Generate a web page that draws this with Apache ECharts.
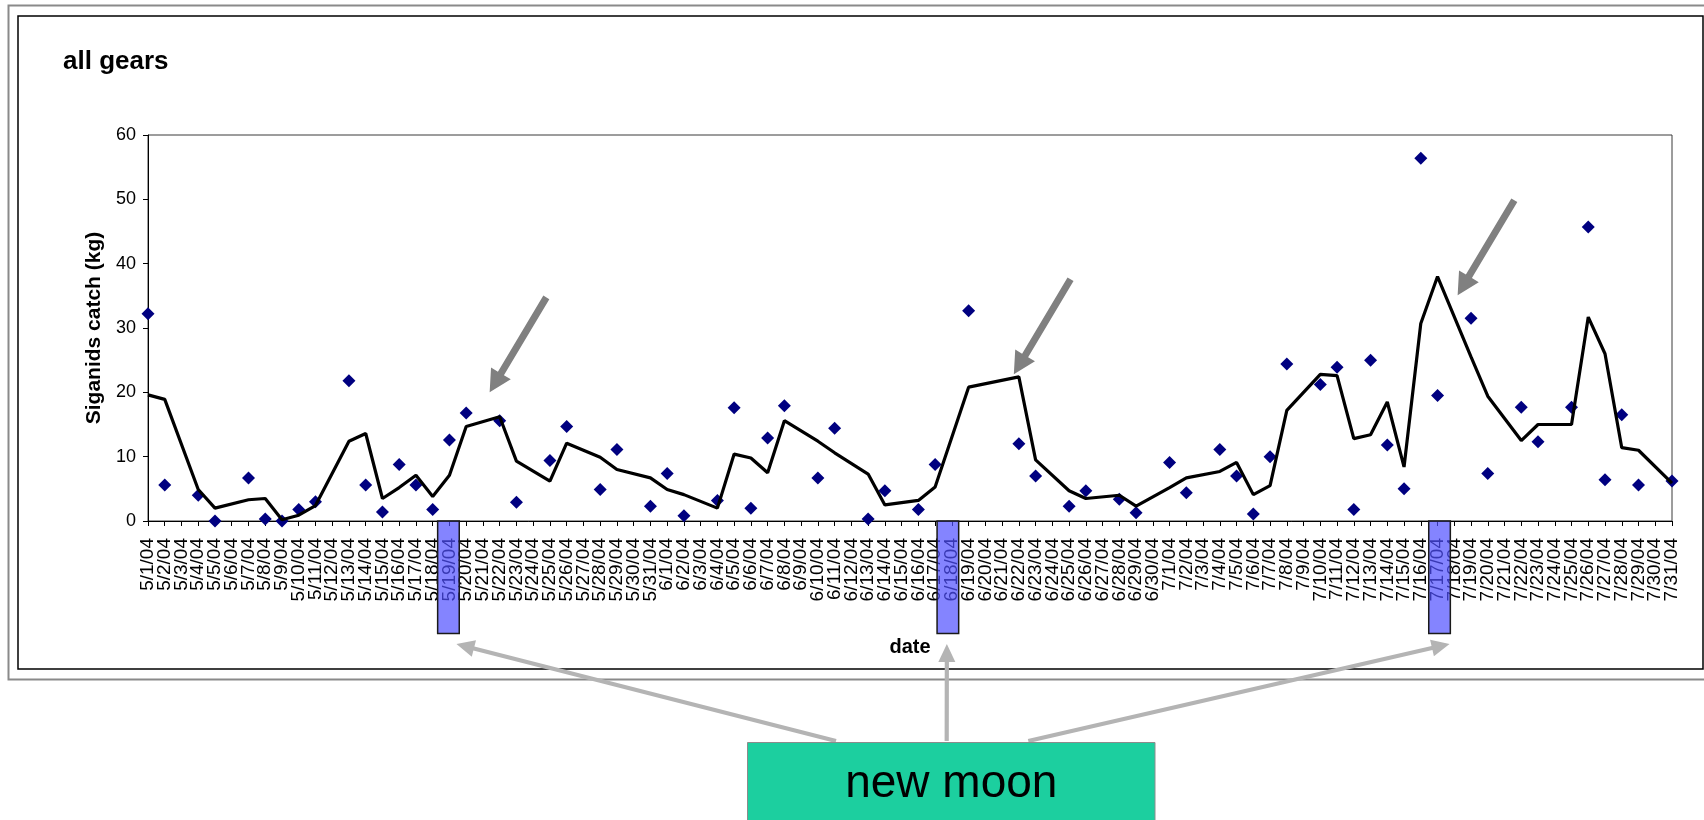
<!DOCTYPE html>
<html>
<head>
<meta charset="utf-8">
<script src="https://cdn.jsdelivr.net/npm/echarts@6/dist/echarts.min.js"></script>
<style>
html,body{margin:0;padding:0;background:#ffffff;}
#c{width:1704px;height:820px;}
</style>
</head>
<body>
<div id="c"></div>
<script>
// ---- data ----
const dates = [
 '5/1/04','5/2/04','5/3/04','5/4/04','5/5/04','5/6/04','5/7/04','5/8/04','5/9/04','5/10/04',
 '5/11/04','5/12/04','5/13/04','5/14/04','5/15/04','5/16/04','5/17/04','5/18/04','5/19/04','5/20/04',
 '5/21/04','5/22/04','5/23/04','5/24/04','5/25/04','5/26/04','5/27/04','5/28/04','5/29/04','5/30/04',
 '5/31/04','6/1/04','6/2/04','6/3/04','6/4/04','6/5/04','6/6/04','6/7/04','6/8/04','6/9/04',
 '6/10/04','6/11/04','6/12/04','6/13/04','6/14/04','6/15/04','6/16/04','6/17/04','6/18/04','6/19/04',
 '6/20/04','6/21/04','6/22/04','6/23/04','6/24/04','6/25/04','6/26/04','6/27/04','6/28/04','6/29/04',
 '6/30/04','7/1/04','7/2/04','7/3/04','7/4/04','7/5/04','7/6/04','7/7/04','7/8/04','7/9/04',
 '7/10/04','7/11/04','7/12/04','7/13/04','7/14/04','7/15/04','7/16/04','7/17/04','7/18/04','7/19/04',
 '7/20/04','7/21/04','7/22/04','7/23/04','7/24/04','7/25/04','7/26/04','7/27/04','7/28/04','7/29/04',
 '7/30/04','7/31/04'
];
const catchKg = [
 32.2, 5.6, null, 4.0, 0, null, 6.7, 0.3, 0, 1.8,
 3.0, null, 21.8, 5.6, 1.4, 8.8, 5.6, 1.8, 12.6, 16.8,
 null, 15.6, 2.9, null, 9.4, 14.7, null, 4.9, 11.1, null,
 2.3, 7.4, 0.8, null, 3.2, 17.6, 2.0, 12.9, 17.9, null,
 6.7, 14.4, null, 0.3, 4.7, null, 1.8, 8.8, null, 32.7,
 null, null, 12.0, 7.0, null, 2.3, 4.7, null, 3.4, 1.3,
 null, 9.1, 4.4, null, 11.1, 7.0, 1.1, 10.0, 24.4, null,
 21.2, 23.9, 1.8, 25.0, 11.8, 5.0, 56.4, 19.5, null, 31.5,
 7.4, null, 17.7, 12.3, null, 17.7, 45.7, 6.4, 16.5, 5.6,
 null, 6.2
];
const movingAvg = [
 19.6, 18.9, null, 4.9, 2.0, null, 3.3, 3.5, 0.2, 0.9,
 2.4, null, 12.4, 13.6, 3.5, 5.2, 7.1, 3.8, 7.1, 14.7,
 null, 16.2, 9.3, null, 6.2, 12.1, null, 9.9, 8.0, null,
 6.7, 4.9, 4.1, null, 2.0, 10.4, 9.8, 7.5, 15.6, null,
 12.4, 10.6, null, 7.3, 2.5, null, 3.2, 5.3, null, 20.8,
 null, null, 22.4, 9.5, null, 4.7, 3.5, null, 4.0, 2.3,
 null, 5.2, 6.7, null, 7.7, 9.1, 4.1, 5.5, 17.2, null,
 22.8, 22.6, 12.8, 13.4, 18.5, 8.4, 30.7, 38.0, null, 25.5,
 19.4, null, 12.5, 15.0, null, 15.0, 31.7, 26.0, 11.4, 11.0,
 null, 5.9
];
const yMin = 0, yMax = 60, yStep = 10;
const newMoonDates = ['5/19/04', '6/18/04', '7/17/04'];
// annotation arrows: tip in data space [category index, kg]
const peakArrowTips = [[20.4, 20.0], [51.7, 22.8], [78.2, 35.1]];

// ---- chart ----
const FONT = "'Liberation Sans', Arial, Helvetica, sans-serif";
const chart = echarts.init(document.getElementById('c'), null, {renderer: 'canvas'});

chart.setOption({
  animation: false,
  backgroundColor: '#ffffff',
  grid: {
    left: 148, top: 135, width: 1524, height: 386,
    show: true, borderColor: '#3a3a3a', borderWidth: 1, backgroundColor: 'transparent'
  },
  xAxis: {
    type: 'category',
    data: dates,
    boundaryGap: false,
    name: 'date',
    nameLocation: 'middle',
    nameGap: 116,
    nameTextStyle: {fontFamily: FONT, fontSize: 20, fontWeight: 'bold', color: '#000'},
    axisLine: {show: true, lineStyle: {color: '#000', width: 1}},
    axisTick: {show: true, interval: 0, length: 5, lineStyle: {color: '#000'}},
    axisLabel: {interval: 0, rotate: 90, margin: 17, fontFamily: FONT, fontSize: 19, color: '#000'},
    splitLine: {show: false}
  },
  yAxis: {
    type: 'value',
    min: yMin, max: yMax, interval: yStep,
    name: 'Siganids catch (kg)',
    nameLocation: 'middle',
    nameGap: 43,
    nameTextStyle: {fontFamily: FONT, fontSize: 21, fontWeight: 'bold', color: '#000'},
    axisLine: {show: true, lineStyle: {color: '#000', width: 1}},
    axisTick: {show: true, length: 5, lineStyle: {color: '#000'}},
    axisLabel: {margin: 12, fontFamily: FONT, fontSize: 18, color: '#000'},
    splitLine: {show: false}
  },
  series: [
    {
      name: 'catch',
      type: 'scatter',
      data: catchKg,
      symbol: 'diamond',
      symbolSize: 13,
      itemStyle: {color: '#000080', opacity: 1},
      z: 2
    },
    {
      name: 'moving average',
      type: 'line',
      data: movingAvg,
      connectNulls: true,
      showSymbol: false,
      symbol: 'none',
      lineStyle: {color: '#000', width: 3.2},
      z: 3
    }
  ]
});

// ---- annotations positioned through the chart's own scales ----
function px(i) { return chart.convertToPixel({xAxisIndex: 0}, dates[i]); }
function py(v) { return chart.convertToPixel({yAxisIndex: 0}, v); }
function pxFrac(f) { const a = px(0), b = px(1); return a + f * (b - a); }

function arrowPoly(T, P, s, h, w) {
  const dx = P[0] - T[0], dy = P[1] - T[1];
  const L = Math.sqrt(dx * dx + dy * dy);
  const ux = dx / L, uy = dy / L;
  const nx = -uy, ny = ux;
  const B = [P[0] - ux * h, P[1] - uy * h];
  return [
    [T[0] + nx * s, T[1] + ny * s],
    [B[0] + nx * s, B[1] + ny * s],
    [B[0] + nx * w, B[1] + ny * w],
    [P[0], P[1]],
    [B[0] - nx * w, B[1] - ny * w],
    [B[0] - nx * s, B[1] - ny * s],
    [T[0] - nx * s, T[1] - ny * s]
  ];
}

const axisY = py(yMin);
const els = [];
// outer frames
els.push({type: 'rect', shape: {x: 8.5, y: 5.5, width: 1730, height: 674}, style: {fill: 'none', stroke: '#8a8a8a', lineWidth: 2}, z: 0, silent: true});
els.push({type: 'rect', shape: {x: 18, y: 16, width: 1685, height: 653}, style: {fill: 'none', stroke: '#000', lineWidth: 1.5}, z: 0, silent: true});
// title
els.push({type: 'text', x: 63, y: 61.5, style: {text: 'all gears', font: 'bold 26px ' + FONT, fill: '#000', align: 'left', verticalAlign: 'middle', textAlign: 'left', textVerticalAlign: 'middle'}, z: 5});

// new-moon boxes on the date axis
const boxDx = [-1, -4, 2];
const boxCenters = newMoonDates.map((d, k) => px(dates.indexOf(d)) + boxDx[k]);
boxCenters.forEach(cx => {
  els.push({type: 'rect', shape: {x: cx - 10.8, y: axisY, width: 21.6, height: 112.5},
    style: {fill: 'rgba(80,80,255,0.7)', stroke: '#1a1a1a', lineWidth: 1.5}, z: 100, silent: true});
});

// peak arrows in the plot
peakArrowTips.forEach(t => {
  const P = [pxFrac(t[0]), py(t[1])];
  const T = [P[0] + 56.7, P[1] - 95];
  els.push({type: 'polygon', shape: {points: arrowPoly(T, P, 3.5, 22, 11.5)}, style: {fill: '#808080'}, z: 50, silent: true});
});

// "new moon" label box
els.push({type: 'rect', shape: {x: 747.5, y: 742.5, width: 407.5, height: 120}, style: {fill: '#1ccf9f', stroke: '#8c8c8c', lineWidth: 1}, z: 5, silent: true});
els.push({type: 'text', x: 951.3, y: 784.6, style: {text: 'new moon', font: '46px ' + FONT, fill: '#000', align: 'center', verticalAlign: 'middle', textAlign: 'center', textVerticalAlign: 'middle'}, z: 6});

// connectors from label box to the new-moon markers
const boxBottom = axisY + 112.5;
const tails = [[836, 741], [946.7, 741], [1028.3, 741]];
const tipDx = [8, -1, 10];
tails.forEach((T, k) => {
  const P = [boxCenters[k] + tipDx[k], boxBottom + 10.5];
  els.push({type: 'polygon', shape: {points: arrowPoly(T, P, 2.1, 18, 8.5)}, style: {fill: '#b4b4b4'}, z: 4, silent: true});
});

chart.setOption({graphic: {elements: els}});
</script>
</body>
</html>
